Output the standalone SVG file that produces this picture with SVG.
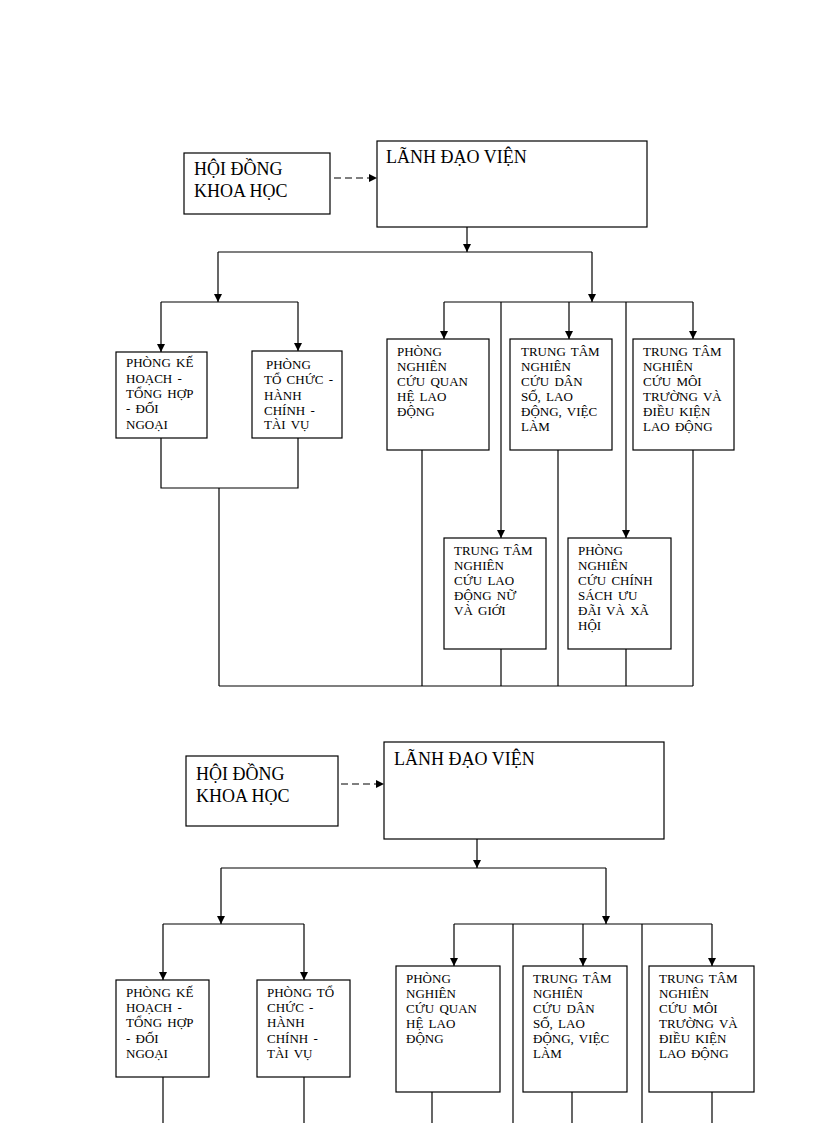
<svg xmlns="http://www.w3.org/2000/svg" width="816" height="1123" viewBox="0 0 816 1123">
<style>
.box{fill:#fff;stroke:#000;stroke-width:1.2}
.ln{fill:none;stroke:#000;stroke-width:1.2}
.ar{fill:none;stroke:#000;stroke-width:1.2;marker-end:url(#ah)}
.ds{fill:none;stroke:#000;stroke-width:1.2;stroke-dasharray:7 4;marker-end:url(#ah)}
.big{font-family:"Liberation Serif","Times New Roman",serif;font-size:18px;fill:#000}
.sm{font-family:"Liberation Serif","Times New Roman",serif;font-size:13px;fill:#000;word-spacing:2px}
</style>
<defs>
<marker id="ah" viewBox="0 0 10 10" refX="10" refY="5" markerWidth="8" markerHeight="8" markerUnits="userSpaceOnUse" orient="auto">
<path d="M0,0 L10,5 L0,10 z" fill="#000"/>
</marker>
</defs>
<rect width="816" height="1123" fill="#fff"/>

<g id="connectors">
<path class="ds" d="M334,178 H377"/>
<path class="ar" d="M467,227 V252"/>
<path class="ln" d="M218,252 H592"/>
<path class="ar" d="M218,252 V302"/>
<path class="ar" d="M592,252 V302"/>
<path class="ln" d="M161,302 H298"/>
<path class="ar" d="M161,302 V352"/>
<path class="ar" d="M298,302 V351"/>
<path class="ln" d="M161,438 V488 H298 V438"/>
<path class="ln" d="M219,488 V686"/>
<path class="ln" d="M444,302 H693"/>
<path class="ar" d="M444,302 V339"/>
<path class="ar" d="M569,302 V339"/>
<path class="ar" d="M693,302 V339"/>
<path class="ar" d="M501,302 V538"/>
<path class="ar" d="M626,302 V538"/>
<path class="ln" d="M422,450 V686"/>
<path class="ln" d="M558,450 V686"/>
<path class="ln" d="M693,450 V686"/>
<path class="ln" d="M501,649 V686"/>
<path class="ln" d="M626,649 V686"/>
<path class="ln" d="M219,686 H693"/>
<path class="ds" d="M341,784 H384"/>
<path class="ar" d="M477,839 V868"/>
<path class="ln" d="M221,868 H606"/>
<path class="ar" d="M221,868 V924"/>
<path class="ar" d="M606,868 V924"/>
<path class="ln" d="M163,924 H304"/>
<path class="ar" d="M163,924 V980"/>
<path class="ar" d="M304,924 V980"/>
<path class="ln" d="M163,1077 V1123"/>
<path class="ln" d="M304,1077 V1123"/>
<path class="ln" d="M454,924 H712"/>
<path class="ar" d="M454,924 V966"/>
<path class="ar" d="M583,924 V966"/>
<path class="ar" d="M712,924 V966"/>
<path class="ln" d="M513,924 V1123"/>
<path class="ln" d="M642,924 V1123"/>
<path class="ln" d="M432,1092 V1123"/>
<path class="ln" d="M572,1092 V1123"/>
<path class="ln" d="M712,1092 V1123"/>
</g>

<g id="hdkh1">
<rect class="box" x="184" y="153" width="146" height="61"/>
<text class="big" x="194" y="175">HỘI ĐỒNG</text>
<text class="big" x="194" y="197">KHOA HỌC</text>
</g>
<g id="ldv1">
<rect class="box" x="377" y="141" width="270" height="86"/>
<text class="big" x="386" y="163">LÃNH ĐẠO VIỆN</text>
</g>
<g id="khth1">
<rect class="box" x="116" y="352" width="91" height="86"/>
<text class="sm" x="126" y="367">PHÒNG KẾ</text>
<text class="sm" x="126" y="383">HOẠCH -</text>
<text class="sm" x="126" y="398">TỔNG HỢP</text>
<text class="sm" x="126" y="413">- ĐỐI</text>
<text class="sm" x="126" y="429">NGOẠI</text>
</g>
<g id="tchc1">
<rect class="box" x="252" y="351" width="90" height="87"/>
<text class="sm" x="266" y="369">PHÒNG</text>
<text class="sm" x="264" y="384">TỔ CHỨC -</text>
<text class="sm" x="264" y="400">HÀNH</text>
<text class="sm" x="264" y="415">CHÍNH -</text>
<text class="sm" x="264" y="429">TÀI VỤ</text>
</g>
<g id="qhld1">
<rect class="box" x="387" y="339" width="102" height="111"/>
<text class="sm" x="397" y="356">PHÒNG</text>
<text class="sm" x="397" y="371">NGHIÊN</text>
<text class="sm" x="397" y="386">CỨU QUAN</text>
<text class="sm" x="397" y="401">HỆ LAO</text>
<text class="sm" x="397" y="416">ĐỘNG</text>
</g>
<g id="dsld1">
<rect class="box" x="510" y="339" width="102" height="111"/>
<text class="sm" x="521" y="356">TRUNG TÂM</text>
<text class="sm" x="521" y="371">NGHIÊN</text>
<text class="sm" x="521" y="386">CỨU DÂN</text>
<text class="sm" x="521" y="401">SỐ, LAO</text>
<text class="sm" x="521" y="416">ĐỘNG, VIỆC</text>
<text class="sm" x="521" y="431">LÀM</text>
</g>
<g id="mt1">
<rect class="box" x="633" y="339" width="101" height="111"/>
<text class="sm" x="643" y="356">TRUNG TÂM</text>
<text class="sm" x="643" y="371">NGHIÊN</text>
<text class="sm" x="643" y="386">CỨU MÔI</text>
<text class="sm" x="643" y="401">TRƯỜNG VÀ</text>
<text class="sm" x="643" y="416">ĐIỀU KIỆN</text>
<text class="sm" x="643" y="431">LAO ĐỘNG</text>
</g>
<g id="ldn1">
<rect class="box" x="444" y="538" width="102" height="111"/>
<text class="sm" x="454" y="555">TRUNG TÂM</text>
<text class="sm" x="454" y="570">NGHIÊN</text>
<text class="sm" x="454" y="585">CỨU LAO</text>
<text class="sm" x="454" y="600">ĐỘNG NỮ</text>
<text class="sm" x="454" y="615">VÀ GIỚI</text>
</g>
<g id="cs1">
<rect class="box" x="568" y="538" width="103" height="111"/>
<text class="sm" x="578" y="555">PHÒNG</text>
<text class="sm" x="578" y="570">NGHIÊN</text>
<text class="sm" x="578" y="585">CỨU CHÍNH</text>
<text class="sm" x="578" y="600">SÁCH ƯU</text>
<text class="sm" x="578" y="615">ĐÃI VÀ XÃ</text>
<text class="sm" x="578" y="630">HỘI</text>
</g>

<g id="hdkh2">
<rect class="box" x="186" y="756" width="152" height="70"/>
<text class="big" x="196" y="780">HỘI ĐỒNG</text>
<text class="big" x="196" y="802">KHOA HỌC</text>
</g>
<g id="ldv2">
<rect class="box" x="384" y="742" width="280" height="97"/>
<text class="big" x="394" y="765">LÃNH ĐẠO VIỆN</text>
</g>
<g id="khth2">
<rect class="box" x="116" y="980" width="93" height="97"/>
<text class="sm" x="126" y="997">PHÒNG KẾ</text>
<text class="sm" x="126" y="1012">HOẠCH -</text>
<text class="sm" x="126" y="1027">TỔNG HỢP</text>
<text class="sm" x="126" y="1043">- ĐỐI</text>
<text class="sm" x="126" y="1058">NGOẠI</text>
</g>
<g id="tchc2">
<rect class="box" x="257" y="980" width="93" height="97"/>
<text class="sm" x="267" y="997">PHÒNG TỔ</text>
<text class="sm" x="267" y="1012">CHỨC -</text>
<text class="sm" x="267" y="1027">HÀNH</text>
<text class="sm" x="267" y="1043">CHÍNH -</text>
<text class="sm" x="267" y="1058">TÀI VỤ</text>
</g>
<g id="qhld2">
<rect class="box" x="396" y="966" width="104" height="126"/>
<text class="sm" x="406" y="983">PHÒNG</text>
<text class="sm" x="406" y="998">NGHIÊN</text>
<text class="sm" x="406" y="1013">CỨU QUAN</text>
<text class="sm" x="406" y="1028">HỆ LAO</text>
<text class="sm" x="406" y="1043">ĐỘNG</text>
</g>
<g id="dsld2">
<rect class="box" x="523" y="966" width="104" height="126"/>
<text class="sm" x="533" y="983">TRUNG TÂM</text>
<text class="sm" x="533" y="998">NGHIÊN</text>
<text class="sm" x="533" y="1013">CỨU DÂN</text>
<text class="sm" x="533" y="1028">SỐ, LAO</text>
<text class="sm" x="533" y="1043">ĐỘNG, VIỆC</text>
<text class="sm" x="533" y="1058">LÀM</text>
</g>
<g id="mt2">
<rect class="box" x="649" y="966" width="105" height="126"/>
<text class="sm" x="659" y="983">TRUNG TÂM</text>
<text class="sm" x="659" y="998">NGHIÊN</text>
<text class="sm" x="659" y="1013">CỨU MÔI</text>
<text class="sm" x="659" y="1028">TRƯỜNG VÀ</text>
<text class="sm" x="659" y="1043">ĐIỀU KIỆN</text>
<text class="sm" x="659" y="1058">LAO ĐỘNG</text>
</g>
</svg>
